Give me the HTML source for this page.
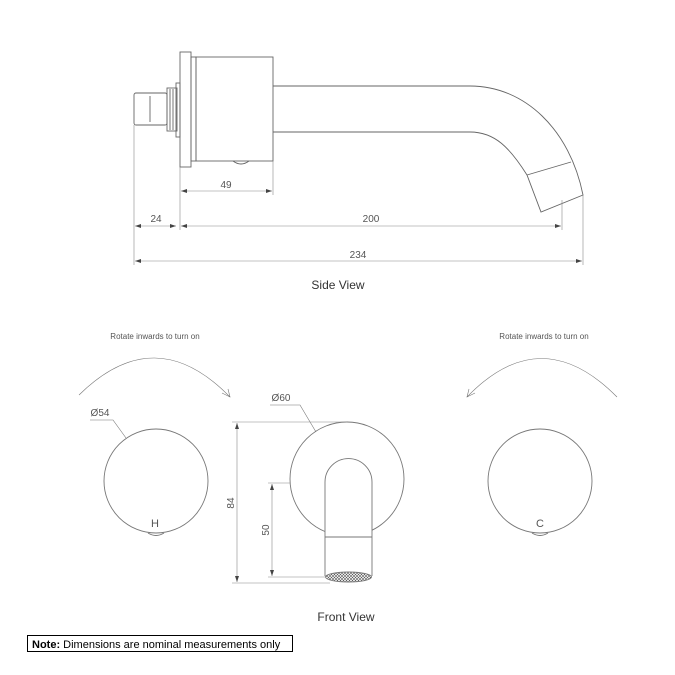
<!DOCTYPE html>
<html><head><meta charset="utf-8"><style>
html,body{margin:0;padding:0;background:#fff;}
svg{display:block;font-family:"Liberation Sans",sans-serif;}
</style></head><body>
<svg width="675" height="675" viewBox="0 0 675 675" xmlns="http://www.w3.org/2000/svg">
<defs>
<marker id="a" markerWidth="6" markerHeight="4" refX="6" refY="2" orient="auto" markerUnits="userSpaceOnUse"><path d="M0,0 L6,2 L0,4z" fill="#444"/></marker>
<marker id="b" markerWidth="6" markerHeight="4" refX="0" refY="2" orient="auto" markerUnits="userSpaceOnUse"><path d="M6,0 L0,2 L6,4z" fill="#444"/></marker>
<pattern id="m" width="3" height="3" patternUnits="userSpaceOnUse"><path d="M0,0 L3,3 M3,0 L0,3" stroke="#555" stroke-width="0.6"/></pattern>
</defs>
<g fill="none" stroke="#666" stroke-width="0.9">
<rect x="134" y="93" width="33" height="32" rx="2"/>
<line x1="150" y1="96" x2="150" y2="122"/>
<rect x="167" y="88" width="10" height="43"/>
<line x1="170" y1="89" x2="170" y2="130"/><line x1="173" y1="89" x2="173" y2="130"/>
<rect x="176" y="83" width="4" height="54"/>
<rect x="180" y="52" width="11" height="115"/>
<rect x="191" y="57" width="5" height="104"/>
<rect x="196" y="57" width="77" height="104"/>
<path d="M233,161 q8,6 16,0"/>
<path d="M273,86 L470,86 C525,86 570,130 583,195 L541,212 L527,175 C510,148 495,132 470,132 L273,132"/>
<line x1="527" y1="175" x2="571" y2="162"/>
</g>
<g stroke="#888" stroke-width="0.6" fill="none">
<line x1="180" y1="167" x2="180" y2="230"/><line x1="273" y1="161" x2="273" y2="195"/>
<line x1="134" y1="125" x2="134" y2="265"/><line x1="583" y1="195" x2="583" y2="265"/>
<line x1="562" y1="200" x2="562" y2="230"/>
<line x1="181" y1="191" x2="272" y2="191" marker-start="url(#b)" marker-end="url(#a)"/>
<line x1="135" y1="226" x2="176" y2="226" marker-start="url(#b)" marker-end="url(#a)"/>
<line x1="181" y1="226" x2="561" y2="226" marker-start="url(#b)" marker-end="url(#a)"/>
<line x1="135" y1="261" x2="582" y2="261" marker-start="url(#b)" marker-end="url(#a)"/>
</g>
<g fill="#555" font-size="10" text-anchor="middle">
<text x="226" y="188">49</text><text x="156" y="222">24</text><text x="371" y="222">200</text><text x="358" y="258">234</text>
<text x="338" y="289" font-size="12" fill="#333">Side View</text>
<text x="155" y="339" font-size="8">Rotate inwards to turn on</text>
<text x="544" y="339" font-size="8">Rotate inwards to turn on</text>
<text x="100" y="416" font-size="10">Ø54</text>
<text x="281" y="401" font-size="10">Ø60</text>
<text x="155" y="527" font-size="11">H</text>
<text x="540" y="527" font-size="11">C</text>
<text x="346" y="621" font-size="12" fill="#333">Front View</text>
<text transform="translate(234,503) rotate(-90)" font-size="10">84</text>
<text transform="translate(269,530) rotate(-90)" font-size="10">50</text>
</g>
<g fill="none" stroke="#777" stroke-width="0.9">
<path d="M79,395 Q155,320 230,397" stroke-width="0.6"/>
<path d="M222,393 L230,397 L228,389" stroke-width="0.6"/>
<path d="M617,397 Q541,320 467,397" stroke-width="0.6"/>
<path d="M475,393 L467,397 L469,389" stroke-width="0.6"/>
<circle cx="156" cy="481" r="52"/>
<circle cx="540" cy="481" r="52"/>
<path d="M148,533 q8,5 16,0"/><path d="M532,533 q8,5 16,0"/>
<path d="M90,420 L113,420 L126,438" stroke-width="0.6"/>
<path d="M270,405 L300,405 L316,432" stroke-width="0.6"/>
<circle cx="347" cy="479" r="57"/>
<path d="M325,537 L325,482 A23.5,23.5 0 0 1 372,482 L372,537" fill="#fff"/>
<line x1="325" y1="537" x2="372" y2="537"/>
<path d="M325,537 L325,576 M372,537 L372,576"/>
<ellipse cx="348.5" cy="577" rx="23" ry="5" fill="url(#m)"/>
</g>
<g stroke="#888" stroke-width="0.6" fill="none">
<line x1="232" y1="422" x2="347" y2="422"/><line x1="232" y1="583" x2="330" y2="583"/>
<line x1="268" y1="483" x2="290" y2="483"/><line x1="268" y1="577" x2="325" y2="577"/>
<line x1="237" y1="423" x2="237" y2="582" marker-start="url(#b)" marker-end="url(#a)"/>
<line x1="272" y1="484" x2="272" y2="576" marker-start="url(#b)" marker-end="url(#a)"/>
</g>
<rect x="27.5" y="635.5" width="265" height="16" fill="none" stroke="#000" stroke-width="1"/>
<text x="32" y="648" font-size="11" fill="#000"><tspan font-weight="bold">Note:</tspan> Dimensions are nominal measurements only</text>
</svg>
</body></html>
